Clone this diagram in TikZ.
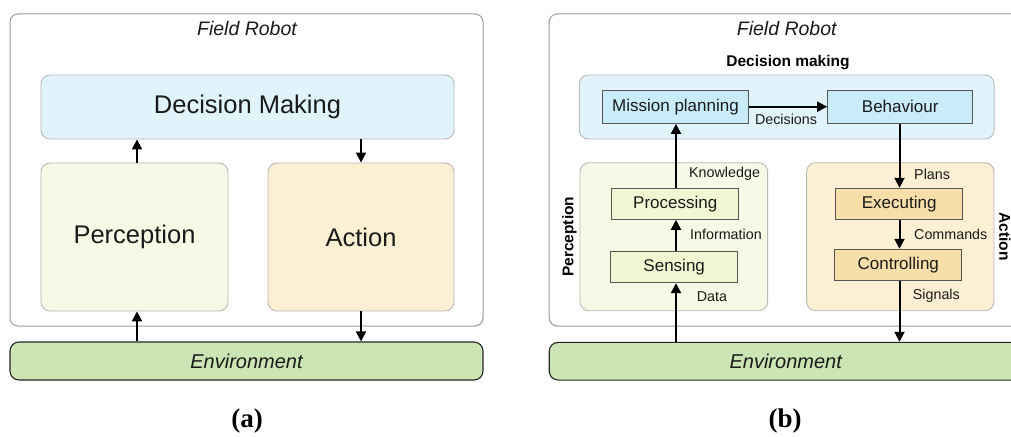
\documentclass[tikz,border=0pt]{standalone}
\usepackage{fontspec}
\setmainfont{Liberation Sans}
\newfontfamily\capfont{Liberation Serif}
\usetikzlibrary{arrows.meta}
\definecolor{framegray}{HTML}{9A9A9A}
\definecolor{boxgray}{HTML}{B8B8B8}
\definecolor{innergray}{HTML}{555555}
\definecolor{dmfill}{HTML}{E1F4FC}
\definecolor{missfill}{HTML}{C9ECFA}
\definecolor{percfill}{HTML}{F7F8E5}
\definecolor{sensfill}{HTML}{F3F6D3}
\definecolor{actfill}{HTML}{FDEFD3}
\definecolor{execfill}{HTML}{F8DFAA}
\definecolor{envfill}{HTML}{CCE5B4}
\definecolor{txt}{HTML}{1A1A1A}
\tikzset{
  frame/.style={draw=framegray, line width=1pt, rounded corners=8pt, fill=white, inner sep=0pt},
  region/.style={draw=boxgray, line width=0.9pt, rounded corners=9pt, inner sep=0pt},
  inner/.style={draw=innergray, line width=1pt, inner sep=0pt, text=txt, font=\fontsize{17}{20}\selectfont},
  envbox/.style={draw=black!85, line width=1.1pt, rounded corners=9pt, fill=envfill, inner sep=0pt, text=txt, font=\fontsize{20}{24}\selectfont\itshape},
  big/.style={text=txt, font=\fontsize{25.5}{30}\selectfont},
  small/.style={text=txt, font=\fontsize{14.3}{17}\selectfont, inner sep=0pt},
  title/.style={text=txt, font=\fontsize{19.5}{23}\selectfont\itshape},
  boldlab/.style={text=black, font=\fontsize{15.5}{18}\selectfont\bfseries, inner sep=0pt},
  caption/.style={text=black, font=\fontsize{27}{30}\selectfont\capfont\bfseries},
  arr/.style={line width=2pt, -{Triangle[length=10pt,width=10pt]}},
}
\begin{document}
\begin{tikzpicture}[x=1pt,y=-1pt]
\clip (0,0) rectangle (1011,436);
\fill[white] (0,0) rectangle (1011,436);
% ---------------- (a) ----------------
\node[frame, minimum width=473pt, minimum height=312pt] (frameA) at (246.5,170) {};
\node[title] (fieldA) at (247,29) {Field Robot};
\node[region, fill=dmfill, minimum width=413pt, minimum height=64pt, big] (dmA) at (247.5,107) {Decision Making};
\node[region, fill=percfill, minimum width=187pt, minimum height=148pt, big] (percA) at (134.5,237) {Perception};
\node[region, fill=actfill, minimum width=186pt, minimum height=148pt, big] (actA) at (361,237) {Action};
\node[envbox, minimum width=473pt, minimum height=38pt] (envA) at (246.5,361) {Environment};
\coordinate (ax1) at (137,0);
\coordinate (ax2) at (361,0);
\draw[arr] (ax1 |- percA.north) -- (ax1 |- dmA.south);
\draw[arr] (ax2 |- dmA.south) -- (ax2 |- actA.north);
\draw[arr] (ax1 |- envA.north) -- (ax1 |- percA.south);
\draw[arr] (ax2 |- actA.south) -- (ax2 |- envA.north);
\node[caption] (capA) at (247,421) {(a)};
% ---------------- (b) ----------------
\node[frame, minimum width=473pt, minimum height=312pt] (frameB) at (785.7,170) {};
\node[title] (fieldB) at (786.7,29) {Field Robot};
\node[boldlab] (dmlab) at (788,63) {Decision making};
\node[region, fill=dmfill, minimum width=414.7pt, minimum height=64pt] (dmB) at (786.7,107) {};
\node[inner, fill=missfill, minimum width=146.4pt, minimum height=33.3pt] (miss) at (675.5,106.7) {Mission planning};
\node[inner, fill=missfill, minimum width=145pt, minimum height=33.3pt] (behav) at (900.2,106.7) {Behaviour};
\node[region, fill=percfill, minimum width=187.7pt, minimum height=148pt] (percB) at (673.8,236.7) {};
\node[region, fill=actfill, minimum width=187.3pt, minimum height=148pt] (actB) at (900.3,236.7) {};
\node[inner, fill=sensfill, minimum width=127pt, minimum height=31pt] (proc) at (675.2,203.8) {Processing};
\node[inner, fill=sensfill, minimum width=127pt, minimum height=31pt] (sens) at (674.2,267.2) {Sensing};
\node[inner, fill=execfill, minimum width=127pt, minimum height=31pt] (exec) at (899.2,203.8) {Executing};
\node[inner, fill=execfill, minimum width=126.7pt, minimum height=31.4pt] (ctrl) at (898.3,265) {Controlling};
\node[envbox, minimum width=473pt, minimum height=37.7pt] (envB) at (785.7,361.2) {Environment};
\node[boldlab, rotate=90] (perclab) at (569.3,236.7) {Perception};
\node[boldlab, rotate=-90] (actlab) at (1005,236.7) {Action};
\coordinate (bx1) at (676,0);
\coordinate (bx2) at (899.5,0);
\coordinate (by1) at (0,106.7);
\draw[arr] (miss.east |- by1) -- (behav.west |- by1);
\draw[arr] (bx1 |- proc.north) -- (bx1 |- miss.south);
\draw[arr] (bx1 |- sens.north) -- (bx1 |- proc.south);
\draw[arr] (bx1 |- envB.north) -- (bx1 |- sens.south);
\draw[arr] (bx2 |- behav.south) -- (bx2 |- exec.north);
\draw[arr] (bx2 |- exec.south) -- (bx2 |- ctrl.north);
\draw[arr] (bx2 |- ctrl.south) -- (bx2 |- envB.north);
\node[small] (ldec) at (786,119) {Decisions};
\node[small, anchor=west] (lknow) at (689,174.3) {Knowledge};
\node[small, anchor=west] (linfo) at (690,234.3) {Information};
\node[small, anchor=west] (ldata) at (696.7,296.7) {Data};
\node[small, anchor=west] (lplan) at (914,174.3) {Plans};
\node[small, anchor=west] (lcomm) at (914,234.3) {Commands};
\node[small, anchor=west] (lsig) at (912.7,295.7) {Signals};
\node[caption] (capB) at (785,421) {(b)};
\end{tikzpicture}
\end{document}
